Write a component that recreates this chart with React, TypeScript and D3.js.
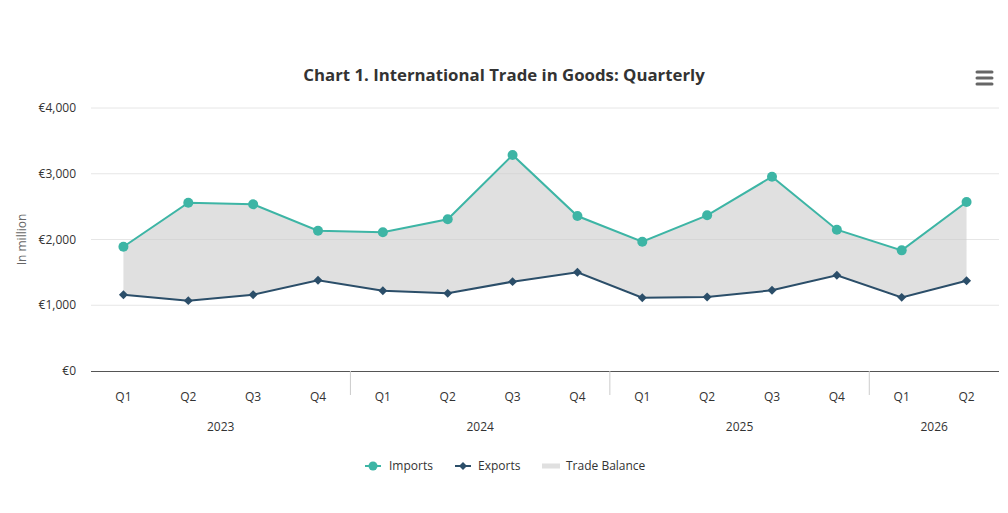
import * as d3 from "d3";

const years = ["2023", "2024", "2025", "2026"];
const quarters = [
  "Q1", "Q2", "Q3", "Q4",
  "Q1", "Q2", "Q3", "Q4",
  "Q1", "Q2", "Q3", "Q4",
  "Q1", "Q2",
];
const yearOf = [0, 0, 0, 0, 1, 1, 1, 1, 2, 2, 2, 2, 3, 3];
const imports = [1890, 2560, 2535, 2134, 2109, 2307, 3285, 2357, 1967, 2368, 2955, 2149, 1835, 2570];
const exports = [1161, 1070, 1161, 1379, 1222, 1181, 1359, 1501, 1115, 1125, 1227, 1455, 1120, 1374];
const yTicks = [0, 1000, 2000, 3000, 4000];

const W = 1008;
const H = 513;
const left = 91;
const right = 999;
const top = 108;
const bottom = 371;
const font = "'Open Sans', 'Noto Sans', sans-serif";
const importColor = "#3db5a5";
const exportColor = "#2b4e69";

const App = () => {
  const idx = quarters.map((_, i) => i);
  const x = d3.scaleBand<number>().domain(idx).range([left, right]);
  const cx = (i: number) => (x(i) ?? 0) + x.bandwidth() / 2;
  const y = d3.scaleLinear().domain([0, 4000]).range([bottom, top]);
  const fmt = (v: number) => "€" + d3.format(",")(v);

  const line = d3.line<number>().x((_, i) => cx(i)).y((d) => y(d));
  const area = d3
    .area<number>()
    .x((_, i) => cx(i))
    .y0((_, i) => y(exports[i]))
    .y1((d) => y(d));

  // year group boundaries
  const groups = years.map((yr, g) => {
    const members = idx.filter((i) => yearOf[i] === g);
    const x0 = x(members[0]) ?? 0;
    const x1 = (x(members[members.length - 1]) ?? 0) + x.bandwidth();
    return { yr, x0, x1 };
  });

  // square rotated 45deg, like the reference markers
  const diamond = d3.symbol(d3.symbolSquare, 40)() ?? "";
  const legendDiamond = d3.symbol(d3.symbolSquare, 32)() ?? "";

  return (
    <svg width={W} height={H} style={{ display: "block", fontFamily: font, position: "absolute", left: 0, top: 0 }}>
      <rect width={W} height={H} fill="#fff" />
      <text x={504} y={81} textAnchor="middle" fontSize={16.8} fontWeight={700} fill="#333">
        Chart 1. International Trade in Goods: Quarterly
      </text>
      {/* menu */}
      <g stroke="#666" strokeWidth={3} strokeLinecap="round">
        {[72, 78, 84].map((yy) => (
          <line key={yy} x1={977} x2={992} y1={yy} y2={yy} />
        ))}
      </g>

      {/* grid */}
      {yTicks.map((t) => (
        <g key={t}>
          {t > 0 && <line x1={left} x2={right} y1={y(t)} y2={y(t)} stroke="#e6e6e6" />}
          <text x={76} y={y(t) + 4} textAnchor="end" fontSize={12} fill="#333">
            {fmt(t)}
          </text>
        </g>
      ))}
      <text
        transform={`translate(26,${(top + bottom) / 2}) rotate(-90)`}
        textAnchor="middle"
        fontSize={12}
        fill="#666"
      >
        In million
      </text>

      {/* area */}
      <path d={area(imports) ?? ""} fill="#cccccc" fillOpacity={0.6} />
      <path d={line(imports) ?? ""} fill="none" stroke={importColor} strokeWidth={2} />
      <path d={line(exports) ?? ""} fill="none" stroke={exportColor} strokeWidth={2} />
      {imports.map((v, i) => (
        <circle key={i} cx={cx(i)} cy={y(v)} r={5} fill={importColor} />
      ))}
      {exports.map((v, i) => (
        <path key={i} d={diamond} transform={`translate(${cx(i)},${y(v)}) rotate(45)`} fill={exportColor} />
      ))}

      {/* x axis */}
      <line x1={left} x2={right} y1={bottom + 0.5} y2={bottom + 0.5} stroke="#555" strokeWidth={1} />
      {groups.slice(1).map((g) => (
        <line key={g.yr} x1={g.x0} x2={g.x0} y1={bottom} y2={bottom + 24} stroke="#ccc" />
      ))}
      {quarters.map((q, i) => (
        <text key={i} x={cx(i)} y={401} textAnchor="middle" fontSize={12} fill="#333">
          {q}
        </text>
      ))}
      {groups.map((g) => (
        <text key={g.yr} x={(g.x0 + g.x1) / 2} y={431} textAnchor="middle" fontSize={12} fill="#333">
          {g.yr}
        </text>
      ))}

      {/* legend */}
      <g fontSize={12} fill="#333">
        <line x1={365} x2={381} y1={466} y2={466} stroke={importColor} strokeWidth={2} />
        <circle cx={373} cy={466} r={4.5} fill={importColor} />
        <text x={389} y={470}>Imports</text>
        <line x1={455} x2={471} y1={466} y2={466} stroke={exportColor} strokeWidth={2} />
        <path d={legendDiamond} transform="translate(463,466) rotate(45)" fill={exportColor} />
        <text x={478} y={470}>Exports</text>
        <rect x={542} y={463.5} width={18} height={5} fill="#cccccc" fillOpacity={0.6} />
        <text x={566} y={470}>Trade Balance</text>
      </g>
    </svg>
  );
};

export default App;
